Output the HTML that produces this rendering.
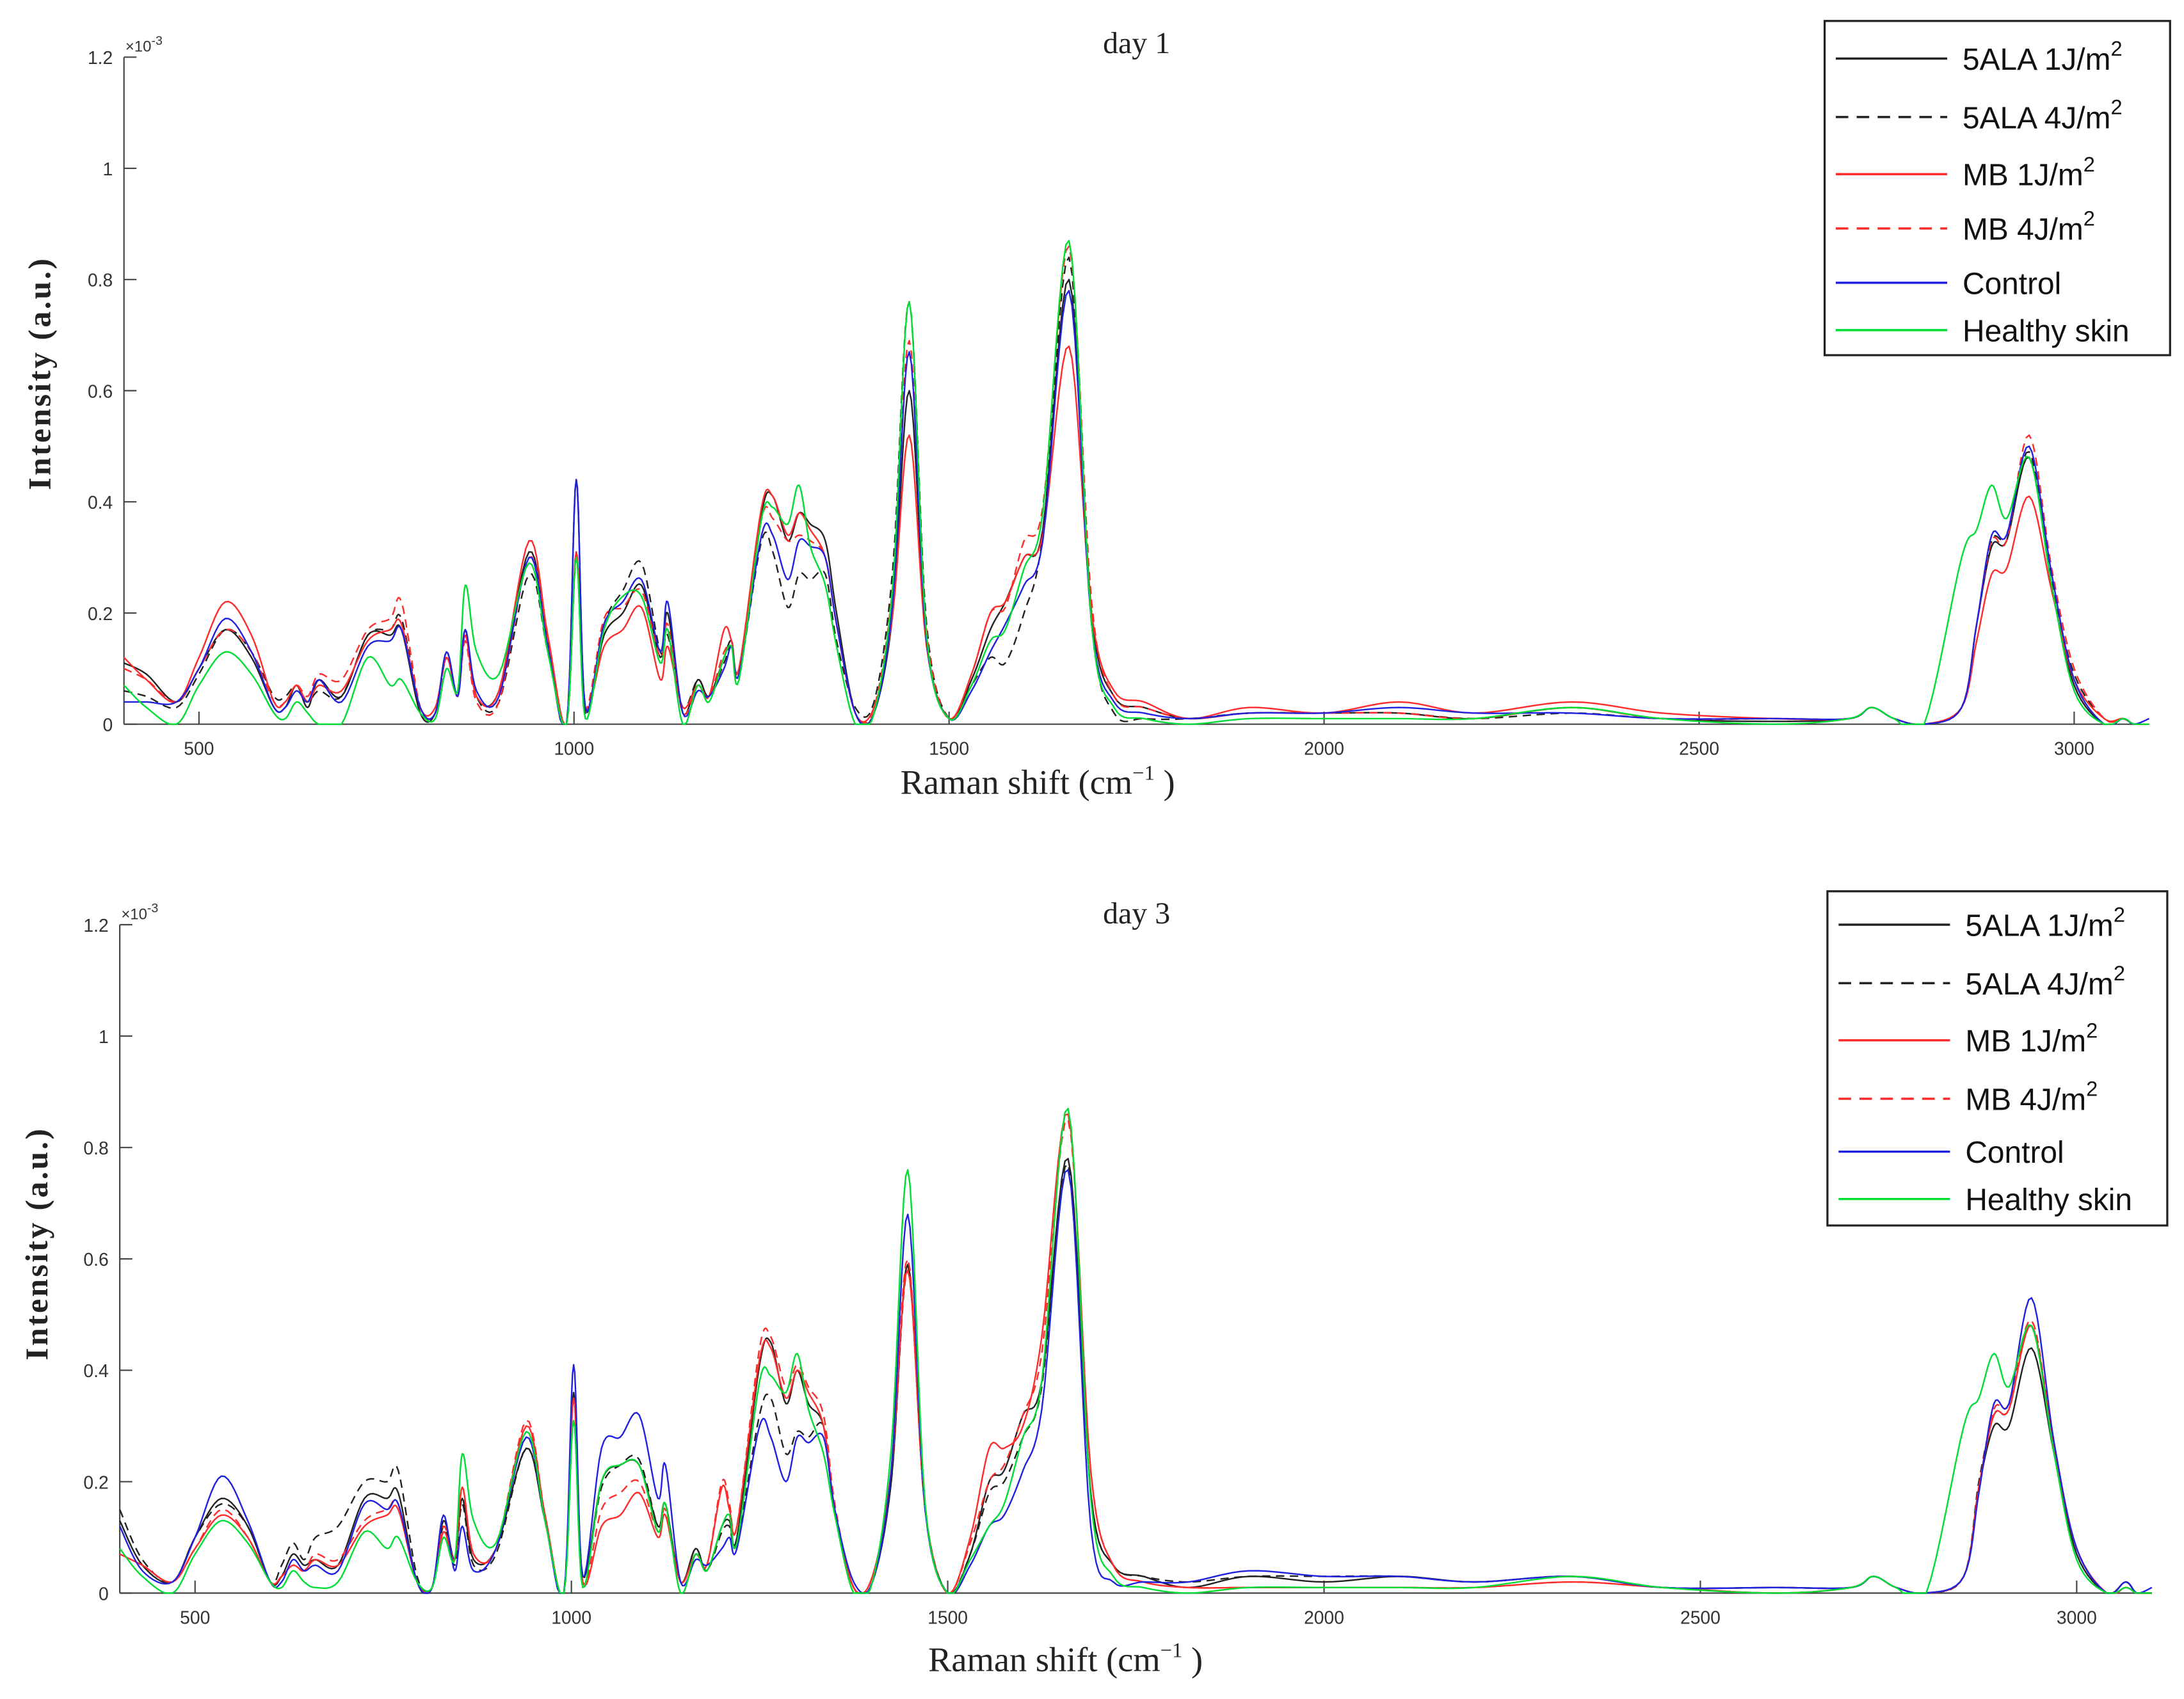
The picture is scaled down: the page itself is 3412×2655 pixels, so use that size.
<!DOCTYPE html>
<html><head><meta charset="utf-8"><style>
html,body{margin:0;padding:0;background:#fff;}
svg{display:block;}
</style></head><body>
<svg id="fig" width="3412" height="2655" viewBox="0 0 1568 1220" xmlns="http://www.w3.org/2000/svg"></svg>
<script>
const knots=[400,430,470,500,535,570,600,615,630,645,660,690,725,755,770,795,815,830,845,855,870,900,940,965,990,1003,1015,1040,1065,1090,1115,1125,1145,1165,1180,1200,1210,1220,1250,1265,1285,1300,1315,1335,1350,1375,1400,1425,1447,1470,1500,1530,1555,1575,1600,1625,1660,1690,1720,1760,1820,1900,2000,2100,2200,2330,2450,2600,2700,2730,2760,2800,2850,2870,2890,2910,2940,2970,3000,3040,3065,3080,3100];
const xTicks=[500,1000,1500,2000,2500,3000];
const yTicks=[0,0.2,0.4,0.6,0.8,1,1.2];
const yTickLabels=["0","0.2","0.4","0.6","0.8","1","1.2"];
const seriesNames=["5ALA 1J/m","5ALA 4J/m","MB 1J/m","MB 4J/m","Control","Healthy skin"];
const d1_A1=[0.11,0.09,0.04,0.10,0.17,0.12,0.03,0.03,0.07,0.03,0.08,0.05,0.16,0.16,0.17,0.02,0.02,0.13,0.05,0.17,0.05,0.06,0.31,0.15,0.00,0.44,0.03,0.16,0.20,0.25,0.12,0.20,0.02,0.08,0.05,0.12,0.15,0.10,0.38,0.41,0.33,0.38,0.36,0.33,0.20,0.02,0.02,0.20,0.60,0.15,0.01,0.08,0.17,0.22,0.30,0.35,0.80,0.20,0.05,0.03,0.01,0.02,0.02,0.02,0.01,0.03,0.01,0.005,0.01,0.03,0.01,0.00,0.03,0.18,0.32,0.33,0.48,0.25,0.07,0.00,0.01,0.00,0.00];
const d1_A4=[0.06,0.05,0.03,0.09,0.17,0.13,0.05,0.05,0.07,0.04,0.06,0.05,0.16,0.17,0.19,0.03,0.02,0.12,0.05,0.17,0.05,0.04,0.27,0.13,0.00,0.30,0.02,0.18,0.24,0.29,0.13,0.16,0.03,0.08,0.05,0.11,0.14,0.09,0.33,0.31,0.21,0.27,0.26,0.27,0.15,0.03,0.04,0.28,0.76,0.18,0.01,0.07,0.12,0.11,0.20,0.34,0.84,0.18,0.02,0.01,0.01,0.02,0.02,0.02,0.01,0.02,0.01,0.01,0.01,0.03,0.01,0.00,0.03,0.18,0.33,0.34,0.49,0.26,0.09,0.01,0.01,0.00,0.00];
const d1_M1=[0.12,0.08,0.04,0.12,0.22,0.16,0.04,0.04,0.07,0.04,0.07,0.06,0.15,0.17,0.18,0.03,0.03,0.12,0.05,0.16,0.05,0.06,0.33,0.16,0.00,0.31,0.03,0.14,0.17,0.21,0.08,0.14,0.03,0.07,0.05,0.17,0.15,0.10,0.39,0.41,0.34,0.38,0.35,0.30,0.18,0.02,0.03,0.20,0.52,0.14,0.01,0.09,0.20,0.22,0.30,0.34,0.68,0.20,0.06,0.04,0.01,0.03,0.02,0.04,0.02,0.04,0.02,0.01,0.01,0.03,0.01,0.00,0.03,0.15,0.27,0.28,0.41,0.24,0.08,0.01,0.01,0.00,0.00];
const d1_M4=[0.10,0.08,0.04,0.10,0.17,0.13,0.04,0.04,0.07,0.05,0.09,0.08,0.17,0.19,0.22,0.03,0.02,0.12,0.05,0.15,0.04,0.04,0.30,0.15,0.00,0.31,0.03,0.19,0.21,0.24,0.12,0.18,0.02,0.07,0.05,0.13,0.14,0.10,0.37,0.37,0.33,0.34,0.33,0.30,0.18,0.02,0.03,0.25,0.69,0.17,0.01,0.09,0.20,0.21,0.33,0.39,0.86,0.22,0.05,0.03,0.01,0.02,0.02,0.02,0.01,0.03,0.01,0.01,0.01,0.03,0.01,0.00,0.03,0.18,0.33,0.33,0.52,0.28,0.10,0.01,0.01,0.00,0.00];
const d1_C=[0.04,0.04,0.04,0.10,0.19,0.13,0.03,0.03,0.06,0.04,0.08,0.04,0.14,0.15,0.17,0.03,0.02,0.13,0.05,0.17,0.06,0.05,0.30,0.14,0.00,0.44,0.03,0.18,0.22,0.26,0.13,0.22,0.02,0.06,0.05,0.10,0.14,0.09,0.34,0.34,0.26,0.33,0.32,0.30,0.18,0.02,0.02,0.22,0.67,0.15,0.01,0.06,0.13,0.18,0.25,0.33,0.78,0.18,0.04,0.02,0.01,0.02,0.02,0.03,0.02,0.02,0.01,0.01,0.01,0.03,0.01,0.00,0.03,0.18,0.34,0.34,0.50,0.27,0.08,0.00,0.01,0.00,0.01];
const d1_H=[0.07,0.03,0.00,0.07,0.13,0.09,0.02,0.01,0.04,0.02,0.00,0.00,0.12,0.07,0.08,0.02,0.01,0.10,0.06,0.25,0.13,0.09,0.29,0.13,0.00,0.30,0.01,0.17,0.23,0.23,0.11,0.17,0.00,0.07,0.04,0.12,0.14,0.08,0.37,0.39,0.36,0.43,0.32,0.25,0.14,0.00,0.02,0.25,0.76,0.16,0.01,0.07,0.15,0.17,0.28,0.38,0.87,0.18,0.03,0.01,0.00,0.01,0.01,0.01,0.01,0.03,0.01,0.00,0.01,0.03,0.01,0.00,0.30,0.35,0.43,0.37,0.48,0.25,0.06,0.00,0.01,0.00,0.00];
const d3_A1=[0.13,0.05,0.02,0.10,0.17,0.12,0.02,0.03,0.07,0.05,0.06,0.05,0.17,0.17,0.18,0.02,0.01,0.13,0.06,0.17,0.06,0.08,0.26,0.13,0.00,0.36,0.03,0.20,0.23,0.23,0.12,0.16,0.02,0.08,0.04,0.12,0.13,0.10,0.41,0.45,0.34,0.40,0.34,0.30,0.15,0.01,0.02,0.20,0.59,0.15,0.00,0.07,0.20,0.22,0.32,0.38,0.78,0.18,0.05,0.03,0.01,0.03,0.02,0.03,0.02,0.03,0.01,0.01,0.01,0.03,0.01,0.00,0.03,0.19,0.30,0.30,0.44,0.25,0.07,0.00,0.02,0.00,0.00];
const d3_A4=[0.15,0.06,0.02,0.10,0.16,0.12,0.02,0.05,0.09,0.06,0.10,0.12,0.20,0.20,0.22,0.03,0.01,0.12,0.05,0.16,0.05,0.07,0.26,0.13,0.00,0.36,0.03,0.19,0.23,0.24,0.12,0.16,0.02,0.08,0.04,0.11,0.12,0.09,0.32,0.35,0.25,0.29,0.28,0.30,0.15,0.01,0.02,0.20,0.58,0.15,0.00,0.07,0.18,0.20,0.28,0.37,0.77,0.18,0.05,0.03,0.02,0.03,0.03,0.03,0.02,0.03,0.01,0.01,0.01,0.03,0.01,0.00,0.03,0.20,0.32,0.33,0.48,0.26,0.08,0.00,0.02,0.00,0.00];
const d3_M1=[0.07,0.05,0.02,0.08,0.14,0.10,0.02,0.03,0.05,0.04,0.06,0.05,0.12,0.14,0.15,0.02,0.01,0.11,0.06,0.19,0.07,0.08,0.30,0.14,0.00,0.35,0.02,0.12,0.14,0.18,0.10,0.14,0.02,0.07,0.05,0.19,0.15,0.12,0.42,0.44,0.35,0.40,0.36,0.30,0.15,0.01,0.03,0.22,0.58,0.15,0.00,0.10,0.26,0.26,0.30,0.46,0.86,0.22,0.05,0.02,0.01,0.01,0.01,0.01,0.01,0.02,0.01,0.00,0.01,0.03,0.01,0.00,0.03,0.19,0.32,0.33,0.48,0.26,0.08,0.00,0.01,0.00,0.00];
const d3_M4=[0.07,0.05,0.02,0.08,0.15,0.10,0.02,0.03,0.05,0.04,0.07,0.06,0.13,0.15,0.16,0.02,0.01,0.12,0.06,0.19,0.07,0.08,0.31,0.14,0.00,0.35,0.02,0.15,0.18,0.20,0.11,0.15,0.02,0.07,0.05,0.20,0.16,0.12,0.44,0.46,0.37,0.41,0.37,0.32,0.16,0.01,0.03,0.22,0.60,0.15,0.00,0.09,0.20,0.23,0.32,0.43,0.85,0.22,0.05,0.02,0.01,0.01,0.01,0.01,0.01,0.02,0.01,0.00,0.01,0.03,0.01,0.00,0.03,0.19,0.33,0.34,0.49,0.26,0.08,0.00,0.01,0.00,0.00];
const d3_C=[0.12,0.04,0.02,0.10,0.21,0.13,0.02,0.02,0.06,0.04,0.05,0.04,0.16,0.15,0.16,0.02,0.01,0.14,0.04,0.12,0.04,0.08,0.28,0.13,0.00,0.41,0.03,0.26,0.28,0.32,0.17,0.23,0.02,0.06,0.05,0.08,0.10,0.08,0.30,0.28,0.20,0.28,0.27,0.28,0.15,0.02,0.02,0.22,0.68,0.15,0.00,0.05,0.12,0.14,0.22,0.33,0.76,0.12,0.02,0.02,0.02,0.04,0.03,0.03,0.02,0.03,0.01,0.01,0.01,0.03,0.01,0.00,0.03,0.18,0.34,0.34,0.53,0.27,0.08,0.00,0.02,0.00,0.01];
const d3_H=[0.08,0.03,0.00,0.07,0.13,0.09,0.02,0.01,0.04,0.02,0.01,0.02,0.11,0.08,0.10,0.02,0.01,0.10,0.06,0.25,0.13,0.09,0.29,0.13,0.00,0.31,0.01,0.20,0.23,0.23,0.11,0.16,0.00,0.07,0.04,0.12,0.14,0.09,0.38,0.39,0.36,0.43,0.33,0.25,0.14,0.00,0.02,0.26,0.76,0.16,0.00,0.06,0.12,0.16,0.28,0.38,0.87,0.17,0.03,0.01,0.00,0.01,0.01,0.01,0.01,0.03,0.01,0.00,0.01,0.03,0.01,0.00,0.30,0.35,0.43,0.37,0.48,0.25,0.06,0.00,0.01,0.00,0.00];

const NS="http://www.w3.org/2000/svg";
const svg=document.getElementById('fig');
function mk(tag,attrs,parent){const e=document.createElementNS(NS,tag);for(const k in attrs)e.setAttribute(k,attrs[k]);(parent||svg).appendChild(e);return e;}
const styles=[{c:"#222",d:""},{c:"#222",d:"6,4"},{c:"#ff2a2a",d:""},{c:"#ff2a2a",d:"6,4"},{c:"#2020e0",d:""},{c:"#00dd33",d:""}];

function panel(cfg,data,tag){
  const g=mk('g',{});
  
  
  const X=v=>cfg.L+(v-400)/(3100-400)*(cfg.R-cfg.L);
  const Y=v=>cfg.B-v/1.2*(cfg.B-cfg.T);
  const ya=mk('line',{x1:cfg.L,y1:cfg.T,x2:cfg.L,y2:cfg.B,stroke:'#444','stroke-width':1},g);
  
  const xa=mk('line',{x1:cfg.L,y1:cfg.B,x2:cfg.R,y2:cfg.B,stroke:'#444','stroke-width':1},g);
  
  xTicks.forEach(t=>{
    mk('line',{x1:X(t),y1:cfg.B,x2:X(t),y2:cfg.B-9,stroke:'#444','stroke-width':1},g);
    const tx=mk('text',{x:X(t),y:cfg.B+22,'font-family':'Liberation Sans, sans-serif','font-size':13,fill:'#333','text-anchor':'middle'},g);
    tx.textContent=t;
    
  });
  yTicks.forEach((t,i)=>{
    mk('line',{x1:cfg.L,y1:Y(t),x2:cfg.L+9,y2:Y(t),stroke:'#444','stroke-width':1},g);
    const tx=mk('text',{x:cfg.L-8,y:Y(t)+5,'font-family':'Liberation Sans, sans-serif','font-size':13,fill:'#333','text-anchor':'end'},g);
    tx.textContent=yTickLabels[i];
    
  });
  const ex=mk('text',{x:cfg.L+1,y:cfg.T-4,'font-family':'Liberation Sans, sans-serif','font-size':11,fill:'#333'},g);
  ex.innerHTML='×10<tspan dy="-5" font-size="9">-3</tspan>';
  
  data.forEach((vals,si)=>{
    const pts=knots.map((k,i)=>[X(k),vals[i]]);
    let d='';
    for(let i=0;i<pts.length-1;i++){
      const p0=pts[Math.max(0,i-1)],p1=pts[i],p2=pts[i+1],p3=pts[Math.min(pts.length-1,i+2)];
      const n=8;
      for(let s=0;s<=n;s++){
        if(i>0&&s===0)continue;
        const t=s/n,t2=t*t,t3=t2*t;
        const cr=(a,b,c,e)=>0.5*((2*b)+(-a+c)*t+(2*a-5*b+4*c-e)*t2+(-a+3*b-3*c+e)*t3);
        const x=cr(p0[0],p1[0],p2[0],p3[0]);
        let v=cr(p0[1],p1[1],p2[1],p3[1]);if(v<0)v=0;
        d+=(d?'L':'M')+x.toFixed(2)+','+Y(v).toFixed(2);
      }
    }
    const p=mk('path',{d:d,fill:'none',stroke:styles[si].c,'stroke-width':1.1,'stroke-dasharray':styles[si].d,'stroke-linejoin':'round'},g);
    
    
  });
  const ti=mk('text',{x:cfg.titleX,y:cfg.titleY,'font-family':'Liberation Serif, serif','font-size':22,fill:'#222','text-anchor':'middle'},g);
  ti.textContent=cfg.title;
  const xl=mk('text',{x:cfg.xlX,y:cfg.xlY,'font-family':'Liberation Serif, serif','font-size':25,fill:'#222','text-anchor':'middle'},g);
  xl.innerHTML='Raman shift (cm<tspan dy="-10" font-size="15">−1</tspan><tspan dy="10"> )</tspan>';
  
  const yl=mk('text',{x:0,y:0,transform:`translate(${cfg.ylX},${cfg.ylY}) rotate(-90)`,'font-family':'Liberation Serif, serif','font-size':23,'font-weight':'bold',fill:'#222','text-anchor':'middle','letter-spacing':'1.5'},g);
  yl.textContent='Intensity (a.u.)';
  const lg=mk('g',{},g);
  mk('rect',{x:cfg.lgX,y:cfg.lgY,width:cfg.lgW,height:cfg.lgH,fill:'#fff',stroke:'#222','stroke-width':1.5},lg);
  seriesNames.forEach((nm,i)=>{
    const yy=cfg.lgRows[i];
    const ln=mk('line',{x1:cfg.lgX+8,y1:yy,x2:cfg.lgX+88,y2:yy,stroke:styles[i].c,'stroke-width':1.6,'stroke-dasharray':styles[i].d?'9,6':''},lg);
    
    const tx=mk('text',{x:cfg.lgX+99,y:yy+8,'font-family':'Liberation Sans, sans-serif','font-size':22,fill:'#111'},lg);
    tx.innerHTML=i<4?nm+'<tspan dy="-10" font-size="15">2</tspan>':nm;
    
  });
}
panel({L:89,R:1543,T:41,B:520,title:'day 1',titleX:816,titleY:38,xlX:745,xlY:570,ylX:36,ylY:268,
  lgX:1310,lgY:15,lgW:248,lgH:240,lgRows:[42,84,125,164,203,237]},[d1_A1,d1_A4,d1_M1,d1_M4,d1_C,d1_H],'day1');
panel({L:86,R:1545,T:664,B:1144,title:'day 3',titleX:816,titleY:663,xlX:765,xlY:1200,ylX:34,ylY:893,
  lgX:1312,lgY:640,lgW:244,lgH:240,lgRows:[664,706,747,789,827,861]},[d3_A1,d3_A4,d3_M1,d3_M4,d3_C,d3_H],'day3');
</script>
</body></html>
